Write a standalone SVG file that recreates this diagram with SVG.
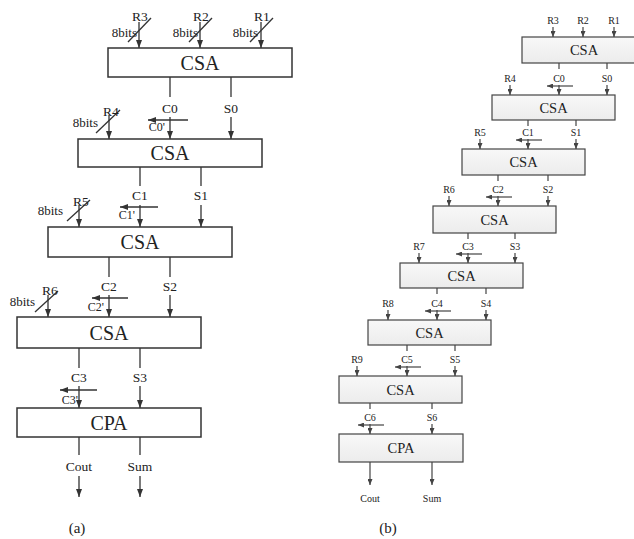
<svg xmlns="http://www.w3.org/2000/svg" width="634" height="539" viewBox="0 0 634 539">
<defs>
<marker id="ah" viewBox="0 0 8 6" refX="8" refY="3" markerWidth="8" markerHeight="6" markerUnits="userSpaceOnUse" orient="auto"><path d="M0,0 L8,3 L0,6 z" fill="#333"/></marker>
<marker id="ahs" viewBox="0 0 6 5" refX="6" refY="2.5" markerWidth="6" markerHeight="5" markerUnits="userSpaceOnUse" orient="auto"><path d="M0,0 L6,2.5 L0,5 z" fill="#444"/></marker>
<linearGradient id="gb" x1="0" y1="0" x2="0" y2="1"><stop offset="0" stop-color="#f8f8f8"/><stop offset="1" stop-color="#ececec"/></linearGradient>
</defs>
<style>
.ba{fill:#fff;stroke:#333;stroke-width:1.5}
.bb{fill:url(#gb);stroke:#444;stroke-width:1.2}
.ta{font-family:"Liberation Serif",serif;font-size:20px;fill:#222;text-anchor:middle}
.tb{font-family:"Liberation Serif",serif;font-size:14.5px;fill:#222;text-anchor:middle}
.la{font-family:"Liberation Serif",serif;font-size:13.5px;fill:#222;text-anchor:middle}
.lp{font-family:"Liberation Serif",serif;font-size:12px;fill:#222;text-anchor:end}
.le{font-family:"Liberation Serif",serif;font-size:13px;fill:#222;text-anchor:end}
.lb{font-family:"Liberation Serif",serif;font-size:10px;fill:#222;text-anchor:middle}
.cap{font-family:"Liberation Serif",serif;font-size:15px;fill:#222;text-anchor:middle}
.wa{stroke:#333;stroke-width:1.3;fill:none}
.aa{stroke:#333;stroke-width:1.3;fill:none;marker-end:url(#ah)}
.wb{stroke:#444;stroke-width:1.2;fill:none}
.ab{stroke:#444;stroke-width:1.2;fill:none;marker-end:url(#ahs)}
</style>

<!-- (a) nodes -->
<g id="a-csa1"><rect class="ba" x="108" y="48" width="184" height="29"/><text class="ta" x="200" y="69.5">CSA</text></g>
<g id="a-csa2"><rect class="ba" x="78" y="139" width="184" height="28"/><text class="ta" x="170" y="160">CSA</text></g>
<g id="a-csa3"><rect class="ba" x="48" y="227" width="184" height="30"/><text class="ta" x="140" y="249">CSA</text></g>
<g id="a-csa4"><rect class="ba" x="17" y="317" width="184" height="31"/><text class="ta" x="109" y="339.5">CSA</text></g>
<g id="a-cpa"><rect class="ba" x="17" y="408" width="184" height="29"/><text class="ta" x="109" y="429.5">CPA</text></g>

<!-- (b) nodes -->
<g id="b-csa1"><rect class="bb" x="522" y="37" width="124" height="26"/><text class="tb" x="584" y="55">CSA</text></g>
<g id="b-csa2"><rect class="bb" x="492" y="95" width="123" height="25"/><text class="tb" x="553.5" y="112.5">CSA</text></g>
<g id="b-csa3"><rect class="bb" x="462" y="149" width="123" height="26"/><text class="tb" x="523.5" y="167">CSA</text></g>
<g id="b-csa4"><rect class="bb" x="433" y="206" width="123" height="27"/><text class="tb" x="494.5" y="224.5">CSA</text></g>
<g id="b-csa5"><rect class="bb" x="400" y="263" width="123" height="25"/><text class="tb" x="461.5" y="280.5">CSA</text></g>
<g id="b-csa6"><rect class="bb" x="368" y="320" width="123" height="25"/><text class="tb" x="429.5" y="337.5">CSA</text></g>
<g id="b-csa7"><rect class="bb" x="339" y="376" width="123" height="27"/><text class="tb" x="400.5" y="394.5">CSA</text></g>
<g id="b-cpa"><rect class="bb" x="339" y="434" width="124" height="28"/><text class="tb" x="401" y="453">CPA</text></g>

<g id="connectors-a">
<line class="aa" x1="139" y1="22" x2="139" y2="48"/>
<line class="aa" x1="200" y1="22" x2="200" y2="48"/>
<line class="aa" x1="261" y1="22" x2="261" y2="48"/>
<line class="wa" x1="128" y1="42" x2="151" y2="18"/>
<line class="wa" x1="189" y1="42" x2="212" y2="18"/>
<line class="wa" x1="250" y1="42" x2="273" y2="18"/>
<text class="la" x="140" y="21">R3</text>
<text class="la" x="201" y="21">R2</text>
<text class="la" x="262" y="21">R1</text>
<text class="le" x="137" y="37">8bits</text>
<text class="le" x="198" y="37">8bits</text>
<text class="le" x="258" y="37">8bits</text>
<line class="wa" x1="170" y1="77" x2="170" y2="97"/>
<line class="wa" x1="231" y1="77" x2="231" y2="97"/>
<text class="la" x="170" y="113">C0</text>
<text class="la" x="231" y="113">S0</text>
<line class="aa" x1="170" y1="117" x2="170" y2="139"/>
<line class="aa" x1="231" y1="117" x2="231" y2="139"/>
<line class="aa" x1="109" y1="115" x2="109" y2="139"/>
<line class="wa" x1="96" y1="133" x2="120" y2="110"/>
<text class="la" x="111" y="116">R4</text>
<text class="le" x="98" y="127">8bits</text>
<line class="aa" x1="188" y1="120" x2="148" y2="120"/>
<text class="lp" x="165" y="131">C0'</text>
<line class="wa" x1="140" y1="167" x2="140" y2="186"/>
<line class="wa" x1="201" y1="167" x2="201" y2="186"/>
<text class="la" x="140" y="200">C1</text>
<text class="la" x="201" y="200">S1</text>
<line class="aa" x1="140" y1="205" x2="140" y2="227"/>
<line class="aa" x1="201" y1="205" x2="201" y2="227"/>
<line class="aa" x1="79" y1="205" x2="79" y2="227"/>
<line class="wa" x1="67" y1="221" x2="90" y2="200"/>
<text class="la" x="81" y="206">R5</text>
<text class="le" x="63" y="215">8bits</text>
<line class="aa" x1="158" y1="207" x2="120" y2="207"/>
<text class="lp" x="135" y="219">C1'</text>
<line class="wa" x1="109" y1="257" x2="109" y2="277"/>
<line class="wa" x1="170" y1="257" x2="170" y2="277"/>
<text class="la" x="109" y="291">C2</text>
<text class="la" x="170" y="291">S2</text>
<line class="aa" x1="109" y1="295" x2="109" y2="317"/>
<line class="aa" x1="170" y1="295" x2="170" y2="317"/>
<line class="aa" x1="48" y1="295" x2="48" y2="317"/>
<line class="wa" x1="35" y1="312" x2="58" y2="291"/>
<text class="la" x="50" y="295">R6</text>
<text class="le" x="35" y="306">8bits</text>
<line class="aa" x1="128" y1="298" x2="92" y2="298"/>
<text class="lp" x="104" y="311">C2'</text>
<line class="wa" x1="79" y1="348" x2="79" y2="368"/>
<line class="wa" x1="140" y1="348" x2="140" y2="368"/>
<text class="la" x="79" y="382">C3</text>
<text class="la" x="140" y="382">S3</text>
<line class="aa" x1="79" y1="386" x2="79" y2="408"/>
<line class="aa" x1="140" y1="386" x2="140" y2="408"/>
<line class="aa" x1="97" y1="390" x2="60" y2="390"/>
<text class="lp" x="78" y="404">C3'</text>
<line class="wa" x1="79" y1="437" x2="79" y2="455"/>
<line class="wa" x1="140" y1="437" x2="140" y2="455"/>
<text class="la" x="79" y="471">Cout</text>
<text class="la" x="140" y="471">Sum</text>
<line class="aa" x1="79" y1="476" x2="79" y2="497"/>
<line class="aa" x1="140" y1="476" x2="140" y2="497"/>
</g>

<g id="connectors-b">
<line class="ab" x1="553" y1="27" x2="553" y2="37"/>
<line class="ab" x1="583" y1="27" x2="583" y2="37"/>
<line class="ab" x1="614" y1="27" x2="614" y2="37"/>
<text class="lb" x="553" y="24">R3</text>
<text class="lb" x="583" y="24">R2</text>
<text class="lb" x="614" y="24">R1</text>
<line class="wb" x1="559" y1="63" x2="559" y2="69"/>
<line class="wb" x1="607" y1="63" x2="607" y2="69"/>
<text class="lb" x="559" y="82">C0</text><text class="lb" x="607" y="82">S0</text><text class="lb" x="510" y="82">R4</text>
<line class="ab" x1="559" y1="85" x2="559" y2="95"/>
<line class="ab" x1="607" y1="85" x2="607" y2="95"/>
<line class="ab" x1="510" y1="85" x2="510" y2="95"/>
<line class="ab" x1="573" y1="86" x2="547" y2="86"/>
<line class="wb" x1="528" y1="120" x2="528" y2="126"/>
<line class="wb" x1="576" y1="120" x2="576" y2="126"/>
<text class="lb" x="528" y="136">C1</text><text class="lb" x="576" y="136">S1</text><text class="lb" x="480" y="136">R5</text>
<line class="ab" x1="528" y1="139" x2="528" y2="149"/>
<line class="ab" x1="576" y1="139" x2="576" y2="149"/>
<line class="ab" x1="480" y1="139" x2="480" y2="149"/>
<line class="ab" x1="542" y1="140" x2="516" y2="140"/>
<line class="wb" x1="498" y1="175" x2="498" y2="181"/>
<line class="wb" x1="548" y1="175" x2="548" y2="181"/>
<text class="lb" x="498" y="193">C2</text><text class="lb" x="548" y="193">S2</text><text class="lb" x="449" y="193">R6</text>
<line class="ab" x1="498" y1="196" x2="498" y2="206"/>
<line class="ab" x1="548" y1="196" x2="548" y2="206"/>
<line class="ab" x1="449" y1="196" x2="449" y2="206"/>
<line class="ab" x1="512" y1="197" x2="486" y2="197"/>
<line class="wb" x1="468" y1="233" x2="468" y2="239"/>
<line class="wb" x1="515" y1="233" x2="515" y2="239"/>
<text class="lb" x="468" y="250">C3</text><text class="lb" x="515" y="250">S3</text><text class="lb" x="419" y="250">R7</text>
<line class="ab" x1="468" y1="253" x2="468" y2="263"/>
<line class="ab" x1="515" y1="253" x2="515" y2="263"/>
<line class="ab" x1="419" y1="253" x2="419" y2="263"/>
<line class="ab" x1="482" y1="254" x2="456" y2="254"/>
<line class="wb" x1="437" y1="288" x2="437" y2="294"/>
<line class="wb" x1="486" y1="288" x2="486" y2="294"/>
<text class="lb" x="437" y="307">C4</text><text class="lb" x="486" y="307">S4</text><text class="lb" x="388" y="307">R8</text>
<line class="ab" x1="437" y1="310" x2="437" y2="320"/>
<line class="ab" x1="486" y1="310" x2="486" y2="320"/>
<line class="ab" x1="388" y1="310" x2="388" y2="320"/>
<line class="ab" x1="451" y1="311" x2="425" y2="311"/>
<line class="wb" x1="407" y1="345" x2="407" y2="351"/>
<line class="wb" x1="455" y1="345" x2="455" y2="351"/>
<text class="lb" x="407" y="363">C5</text><text class="lb" x="455" y="363">S5</text><text class="lb" x="357" y="363">R9</text>
<line class="ab" x1="407" y1="366" x2="407" y2="376"/>
<line class="ab" x1="455" y1="366" x2="455" y2="376"/>
<line class="ab" x1="357" y1="366" x2="357" y2="376"/>
<line class="ab" x1="421" y1="367" x2="395" y2="367"/>
<line class="wb" x1="370" y1="403" x2="370" y2="409"/>
<line class="wb" x1="432" y1="403" x2="432" y2="409"/>
<text class="lb" x="370" y="421">C6</text><text class="lb" x="432" y="421">S6</text>
<line class="ab" x1="370" y1="424" x2="370" y2="434"/>
<line class="ab" x1="432" y1="424" x2="432" y2="434"/>
<line class="ab" x1="384" y1="425" x2="358" y2="425"/>
<line class="ab" x1="370" y1="462" x2="370" y2="485"/>
<line class="ab" x1="432" y1="462" x2="432" y2="485"/>
<text class="lb" x="370" y="502">Cout</text>
<text class="lb" x="432" y="502">Sum</text>
</g>

<text class="cap" x="77" y="533">(a)</text>
<text class="cap" x="388" y="533">(b)</text>
</svg>
